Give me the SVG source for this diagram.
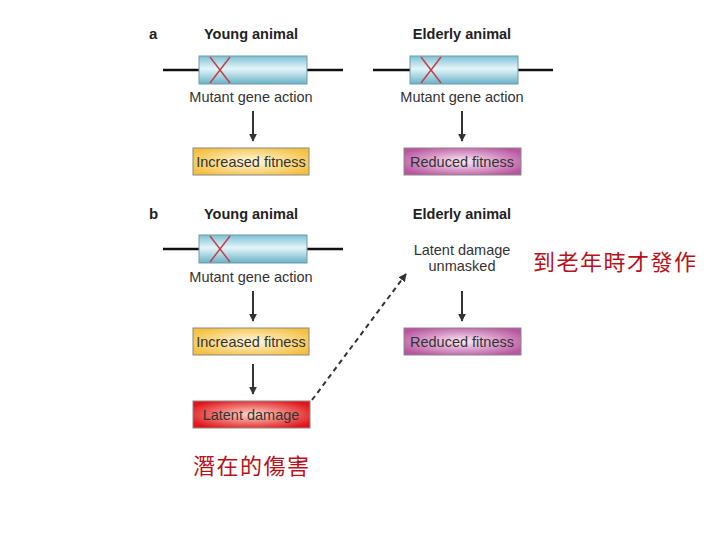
<svg xmlns="http://www.w3.org/2000/svg" width="720" height="540" viewBox="0 0 720 540">
<defs>
<linearGradient id="cyl" x1="0" y1="0" x2="0" y2="1">
<stop offset="0" stop-color="#7cc0d4"/><stop offset="0.45" stop-color="#e4f5f9"/><stop offset="1" stop-color="#6bb3c8"/>
</linearGradient>
<radialGradient id="yel" cx="0.5" cy="0.5" r="0.6">
<stop offset="0" stop-color="#fff8e0"/><stop offset="1" stop-color="#f4c040"/>
</radialGradient>
<radialGradient id="pur" cx="0.5" cy="0.5" r="0.6">
<stop offset="0" stop-color="#fbeaf6"/><stop offset="1" stop-color="#b9559f"/>
</radialGradient>
<radialGradient id="red" cx="0.5" cy="0.5" r="0.6">
<stop offset="0" stop-color="#ffd8c8"/><stop offset="1" stop-color="#e0141a"/>
</radialGradient>
<marker id="ah" viewBox="0 0 10 10" refX="9" refY="5" markerWidth="4" markerHeight="4" orient="auto">
<path d="M0,0 L10,5 L0,10 z" fill="#333"/>
</marker>
</defs>
<style>
.t{font-family:"Liberation Sans",Arial,sans-serif;font-size:14.5px;fill:#333;text-anchor:middle}
.h{font-family:"Liberation Sans",Arial,sans-serif;font-size:14.5px;font-weight:bold;fill:#222;text-anchor:middle}
.cn{font-family:"Noto Sans CJK TC",sans-serif;font-size:22px;fill:#b5121b;letter-spacing:1.5px}
.wire{stroke:#111;stroke-width:2.5}
.cyl{fill:url(#cyl);stroke:#6f9aa6;stroke-width:1}
.x{stroke:#c0404a;stroke-width:1.5}
.arr{stroke:#333;stroke-width:2;fill:none;marker-end:url(#ah)}
.box{stroke:#888;stroke-width:1}
</style>
<rect width="720" height="540" fill="#fff"/>

<text x="149" y="39" class="h" style="text-anchor:start;font-size:15px">a</text>
<text x="149" y="219" class="h" style="text-anchor:start;font-size:15px">b</text>

<g id="a-young-gene">
<text x="251" y="39" class="h">Young animal</text>
<line x1="163" y1="70" x2="343" y2="70" class="wire"/>
<rect x="199" y="56" width="108" height="28" class="cyl"/>
<line x1="210" y1="57" x2="230" y2="83" class="x"/><line x1="230" y1="57" x2="210" y2="83" class="x"/>
<text x="251" y="102" class="t">Mutant gene action</text>
</g>
<g id="a-elderly-gene">
<text x="462" y="39" class="h">Elderly animal</text>
<line x1="373" y1="70" x2="553" y2="70" class="wire"/>
<rect x="410" y="56" width="108" height="28" class="cyl"/>
<line x1="421" y1="57" x2="441" y2="83" class="x"/><line x1="441" y1="57" x2="421" y2="83" class="x"/>
<text x="462" y="102" class="t">Mutant gene action</text>
</g>
<g id="a-increased">
<rect x="193" y="148" width="116" height="27" fill="url(#yel)" class="box"/>
<text x="251" y="167" class="t">Increased fitness</text>
</g>
<g id="a-reduced">
<rect x="404" y="148" width="117" height="27" fill="url(#pur)" class="box"/>
<text x="462" y="167" class="t">Reduced fitness</text>
</g>

<g id="b-young-gene">
<text x="251" y="219" class="h">Young animal</text>
<line x1="163" y1="249" x2="343" y2="249" class="wire"/>
<rect x="199" y="235" width="108" height="28" class="cyl"/>
<line x1="210" y1="236" x2="230" y2="262" class="x"/><line x1="230" y1="236" x2="210" y2="262" class="x"/>
<text x="251" y="282" class="t">Mutant gene action</text>
</g>
<g id="b-elderly">
<text x="462" y="219" class="h">Elderly animal</text>
<text x="462" y="255" class="t">Latent damage</text>
<text x="462" y="271" class="t">unmasked</text>
</g>
<g id="b-increased">
<rect x="193" y="328" width="116" height="27" fill="url(#yel)" class="box"/>
<text x="251" y="347" class="t">Increased fitness</text>
</g>
<g id="b-latent">
<rect x="193" y="401" width="117" height="27" fill="url(#red)" class="box"/>
<text x="251" y="420" class="t">Latent damage</text>
</g>
<g id="b-reduced">
<rect x="404" y="328" width="117" height="27" fill="url(#pur)" class="box"/>
<text x="462" y="347" class="t">Reduced fitness</text>
</g>

<g id="connectors">
<line x1="253" y1="111" x2="253" y2="141" class="arr"/>
<line x1="462" y1="111" x2="462" y2="141" class="arr"/>
<line x1="253" y1="291" x2="253" y2="321" class="arr"/>
<line x1="462" y1="291" x2="462" y2="321" class="arr"/>
<line x1="253" y1="364" x2="253" y2="394" class="arr"/>
<line x1="312" y1="400" x2="406" y2="274" class="arr" stroke-width="2.5" stroke-dasharray="5,4"/>
</g>

<text x="533" y="270" class="cn">到老年時才發作</text>
<text x="193" y="474" class="cn">潛在的傷害</text>
</svg>
